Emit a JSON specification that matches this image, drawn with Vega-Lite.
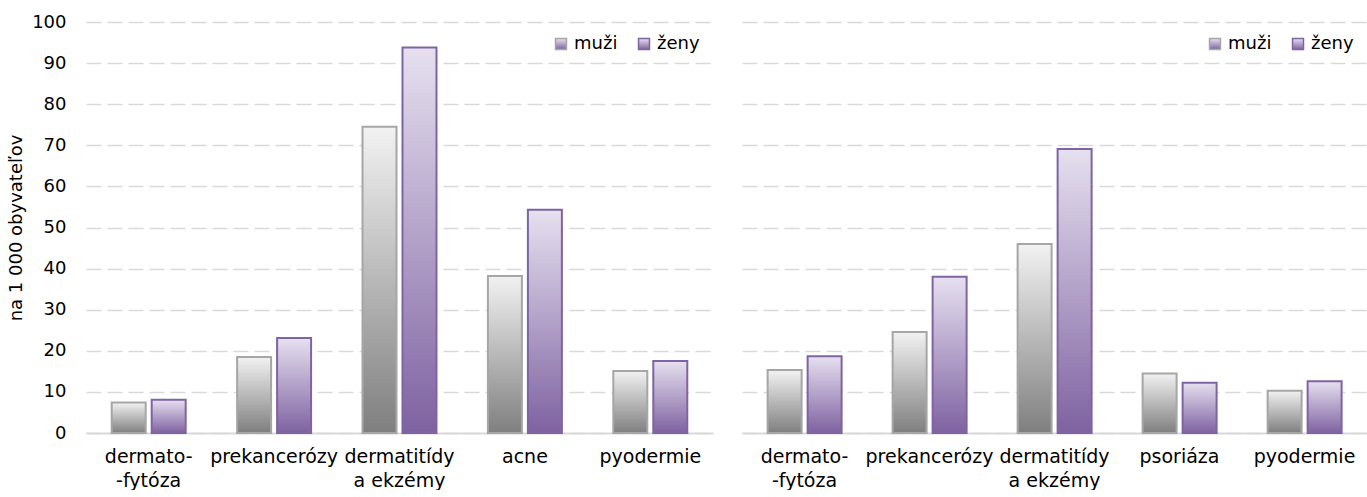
{
  "$schema": "https://vega.github.io/schema/vega-lite/v6.json",
  "padding": {"left": 7, "top": 13, "right": 0, "bottom": 0},
  "background": "white",
  "config": {
    "font": "DejaVu Sans",
    "view": {"stroke": null},
    "concat": {"spacing": 29},
    "axis": {"labelFontSize": 18, "labelColor": "#000000", "titleColor": "#000000", "titleFontSize": 18, "titleFontWeight": "normal"},
    "legend": {"labelFontSize": 18, "labelColor": "#000000"}
  },
  "datasets": {
    "vlavo": [
      {"kategoria": "dermato-|-fytóza", "pohlavie": "muži", "hodnota": 7.4},
      {"kategoria": "dermato-|-fytóza", "pohlavie": "ženy", "hodnota": 8.1},
      {"kategoria": "prekancerózy", "pohlavie": "muži", "hodnota": 18.5},
      {"kategoria": "prekancerózy", "pohlavie": "ženy", "hodnota": 23.1},
      {"kategoria": "dermatitídy|a ekzémy", "pohlavie": "muži", "hodnota": 74.5},
      {"kategoria": "dermatitídy|a ekzémy", "pohlavie": "ženy", "hodnota": 93.8},
      {"kategoria": "acne", "pohlavie": "muži", "hodnota": 38.2},
      {"kategoria": "acne", "pohlavie": "ženy", "hodnota": 54.3},
      {"kategoria": "pyodermie", "pohlavie": "muži", "hodnota": 15.1},
      {"kategoria": "pyodermie", "pohlavie": "ženy", "hodnota": 17.5}
    ],
    "vpravo": [
      {"kategoria": "dermato-|-fytóza", "pohlavie": "muži", "hodnota": 15.3},
      {"kategoria": "dermato-|-fytóza", "pohlavie": "ženy", "hodnota": 18.7},
      {"kategoria": "prekancerózy", "pohlavie": "muži", "hodnota": 24.6},
      {"kategoria": "prekancerózy", "pohlavie": "ženy", "hodnota": 38.0},
      {"kategoria": "dermatitídy|a ekzémy", "pohlavie": "muži", "hodnota": 46.0},
      {"kategoria": "dermatitídy|a ekzémy", "pohlavie": "ženy", "hodnota": 69.1},
      {"kategoria": "psoriáza", "pohlavie": "muži", "hodnota": 14.5},
      {"kategoria": "psoriáza", "pohlavie": "ženy", "hodnota": 12.2},
      {"kategoria": "pyodermie", "pohlavie": "muži", "hodnota": 10.3},
      {"kategoria": "pyodermie", "pohlavie": "ženy", "hodnota": 12.6}
    ]
  },
  "hconcat": [
    {
      "width": 627,
      "height": 411,
      "data": {"name": "vlavo"},
      "mark": {"type": "bar", "strokeWidth": 2},
      "encoding": {
        "x": {"field": "kategoria", "type": "nominal", "sort": null,
              "scale": {"paddingInner": 0.41, "paddingOuter": 0.205},
              "axis": {"title": null, "labelAngle": 0, "ticks": false, "domainColor": "#d9d9d9", "domainWidth": 2, "labelFontSize": 19, "labelPadding": 14, "labelLineHeight": 24, "labelExpr": "split(datum.value, '|')"}},
        "xOffset": {"field": "pohlavie", "type": "nominal", "scale": {"paddingInner": 0.15}},
        "y": {"field": "hodnota", "type": "quantitative",
              "scale": {"domain": [0, 100], "nice": false},
              "axis": {"title": "na 1 000 obyvateľov", "values": [0,10,20,30,40,50,60,70,80,90,100], "ticks": false, "domain": false, "labelPadding": 20, "titlePadding": 6, "gridColor": "#d9d9d9", "gridDash": [15, 6], "gridWidth": 1.5}},
        "fill": {
          "condition": {"test": "datum.pohlavie === 'muži'", "value": {"gradient": "linear", "x1": 0, "y1": 0, "x2": 0, "y2": 1, "stops": [{"offset": 0, "color": "#f2f2f2"}, {"offset": 1, "color": "#7f7f7f"}]}},
          "value": {"gradient": "linear", "x1": 0, "y1": 0, "x2": 0, "y2": 1, "stops": [{"offset": 0, "color": "#e6e0ef"}, {"offset": 1, "color": "#7e62a1"}]}
        },
        "stroke": {"field": "pohlavie", "type": "nominal",
                   "scale": {"domain": ["muži", "ženy"], "range": ["#a6a6a6", "#8064a2"]},
                   "legend": {"title": null, "orient": "top-right", "direction": "horizontal", "offset": 13, "symbolType": "square", "symbolSize": 120, "symbolStrokeWidth": 1.5, "labelOffset": 4, "columnPadding": 17,
                     "encode": {"symbols": {"update": {"fill": {"signal": "datum.value === 'muži' ? {gradient:'linear',x1:0,y1:0,x2:0,y2:1,stops:[{offset:0,color:'#f2f2f2'},{offset:1,color:'#7f7f7f'}]} : {gradient:'linear',x1:0,y1:0,x2:0,y2:1,stops:[{offset:0,color:'#e6e0ef'},{offset:1,color:'#7e62a1'}]}"}, "fillOpacity": {"value": 1}}}}}}
      }
    },
    {
      "width": 625,
      "height": 411,
      "data": {"name": "vpravo"},
      "mark": {"type": "bar", "strokeWidth": 2},
      "encoding": {
        "x": {"field": "kategoria", "type": "nominal", "sort": null,
              "scale": {"paddingInner": 0.41, "paddingOuter": 0.205},
              "axis": {"title": null, "labelAngle": 0, "ticks": false, "domainColor": "#d9d9d9", "domainWidth": 2, "labelFontSize": 19, "labelPadding": 14, "labelLineHeight": 24, "labelExpr": "split(datum.value, '|')"}},
        "xOffset": {"field": "pohlavie", "type": "nominal", "scale": {"paddingInner": 0.15}},
        "y": {"field": "hodnota", "type": "quantitative",
              "scale": {"domain": [0, 100], "nice": false},
              "axis": {"title": null, "labels": false, "values": [0,10,20,30,40,50,60,70,80,90,100], "ticks": false, "domain": false, "gridColor": "#d9d9d9", "gridDash": [15, 6], "gridWidth": 1.5}},
        "fill": {
          "condition": {"test": "datum.pohlavie === 'muži'", "value": {"gradient": "linear", "x1": 0, "y1": 0, "x2": 0, "y2": 1, "stops": [{"offset": 0, "color": "#f2f2f2"}, {"offset": 1, "color": "#7f7f7f"}]}},
          "value": {"gradient": "linear", "x1": 0, "y1": 0, "x2": 0, "y2": 1, "stops": [{"offset": 0, "color": "#e6e0ef"}, {"offset": 1, "color": "#7e62a1"}]}
        },
        "stroke": {"field": "pohlavie", "type": "nominal",
                   "scale": {"domain": ["muži", "ženy"], "range": ["#a6a6a6", "#8064a2"]},
                   "legend": {"title": null, "orient": "top-right", "direction": "horizontal", "offset": 13, "symbolType": "square", "symbolSize": 120, "symbolStrokeWidth": 1.5, "labelOffset": 4, "columnPadding": 17,
                     "encode": {"symbols": {"update": {"fill": {"signal": "datum.value === 'muži' ? {gradient:'linear',x1:0,y1:0,x2:0,y2:1,stops:[{offset:0,color:'#f2f2f2'},{offset:1,color:'#7f7f7f'}]} : {gradient:'linear',x1:0,y1:0,x2:0,y2:1,stops:[{offset:0,color:'#e6e0ef'},{offset:1,color:'#7e62a1'}]}"}, "fillOpacity": {"value": 1}}}}}}
      }
    }
  ],
  "resolve": {"scale": {"stroke": "independent"}, "legend": {"stroke": "independent"}}
}
